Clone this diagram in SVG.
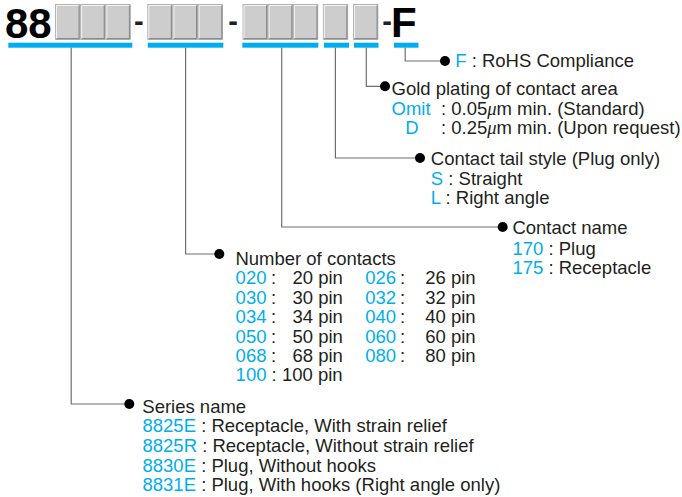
<svg xmlns="http://www.w3.org/2000/svg" xmlns:xlink="http://www.w3.org/1999/xlink" width="682" height="497" viewBox="0 0 682 497">
<style>
text{font-family:"Liberation Sans",Arial,sans-serif;font-size:18.5px;fill:#231f20}
.b{fill:#00aeef}
.big{font-size:42px;font-weight:bold;fill:#000}
.hy{font-size:29px;font-weight:bold;fill:#231f20}
.mu{font-family:"Liberation Serif","DejaVu Serif",serif;font-style:italic}
.bar{fill:#00aeef}
.ln{fill:none;stroke:#6d6e71;stroke-width:1.2}
.dot{fill:#000}
</style>
<defs>
<g id="box">
<rect x="0" y="0" width="24.4" height="35" fill="#cdcdcd" stroke="#a8a8a8" stroke-width="0.8"/>
<path d="M1 34 V1 H23.4" fill="none" stroke="#f2f2f2" stroke-width="1"/>
<path d="M1 34.2 H23.6 V1" fill="none" stroke="#8c8c8c" stroke-width="1.2"/>
</g>
</defs>

<g id="partnumber">
<text class="big" x="5" y="37.5">88</text>
<use xlink:href="#box" x="55.5" y="4.5"/>
<use xlink:href="#box" x="80.7" y="4.5"/>
<use xlink:href="#box" x="105.9" y="4.5"/>
<text class="hy" x="134" y="31">-</text>
<use xlink:href="#box" x="147.8" y="4.5"/>
<use xlink:href="#box" x="173" y="4.5"/>
<use xlink:href="#box" x="198.2" y="4.5"/>
<text class="hy" x="228.2" y="31">-</text>
<use xlink:href="#box" x="243" y="4.5"/>
<use xlink:href="#box" x="268.2" y="4.5"/>
<use xlink:href="#box" x="293.4" y="4.5"/>
<use xlink:href="#box" x="323.3" y="4.5"/>
<use xlink:href="#box" x="353.5" y="4.5"/>
<text class="hy" x="382.2" y="31">-</text>
<text class="big" x="391" y="37">F</text>
<rect class="bar" x="8.3" y="42.7" width="124" height="5"/>
<rect class="bar" x="147.8" y="42.7" width="75.5" height="5"/>
<rect class="bar" x="242.3" y="42.7" width="76" height="5"/>
<rect class="bar" x="324" y="42.7" width="25" height="5"/>
<rect class="bar" x="354" y="42.7" width="24.5" height="5"/>
<rect class="bar" x="394" y="42.7" width="24.5" height="5"/>
</g>

<g id="connectors">
<path class="ln" d="M71.2 47.7 V404 H129.3"/>
<circle class="dot" cx="129.3" cy="404" r="5"/>
<path class="ln" d="M185.6 47.7 V254 H219.3"/>
<circle class="dot" cx="219.3" cy="254" r="5"/>
<path class="ln" d="M281.7 47.7 V227 H502.7"/>
<circle class="dot" cx="502.7" cy="227" r="5"/>
<path class="ln" d="M335.4 47.7 V158 H420"/>
<circle class="dot" cx="420" cy="158" r="5"/>
<path class="ln" d="M366.3 47.7 V86.3 H385"/>
<circle class="dot" cx="385" cy="86.3" r="5"/>
<path class="ln" d="M405.2 47.7 V61 H445"/>
<circle class="dot" cx="445" cy="61" r="5"/>
</g>

<g id="rohs">
<text x="455.2" y="66.7"><tspan class="b">F</tspan> : RoHS Compliance</text>
</g>

<g id="gold">
<text x="391.5" y="95">Gold plating of contact area</text>
<text x="391.5" y="114.5"><tspan class="b">Omit</tspan><tspan x="435.8"> : 0.05</tspan><tspan class="mu">μ</tspan>m min. (Standard)</text>
<text x="405.3" y="133.8"><tspan class="b">D</tspan><tspan x="435.8"> : 0.25</tspan><tspan class="mu">μ</tspan>m min. (Upon request)</text>
</g>

<g id="tail">
<text x="430.8" y="165">Contact tail style (Plug only)</text>
<text x="430.8" y="184.5"><tspan class="b">S</tspan> : Straight</text>
<text x="430.8" y="204.3"><tspan class="b">L</tspan> : Right angle</text>
</g>

<g id="contactname">
<text x="512.4" y="234.3">Contact name</text>
<text x="512.4" y="254.5"><tspan class="b">170</tspan> : Plug</text>
<text x="512.4" y="274"><tspan class="b">175</tspan> : Receptacle</text>
</g>

<g id="contacts">
<text x="235.4" y="265">Number of contacts</text>
<text y="284.4"><tspan class="b" x="235.6">020</tspan><tspan x="271">:</tspan><tspan x="292.5">20 pin</tspan><tspan class="b" x="365.2">026</tspan><tspan x="400">:</tspan><tspan x="425.2">26 pin</tspan></text>
<text y="303.8"><tspan class="b" x="235.6">030</tspan><tspan x="271">:</tspan><tspan x="292.5">30 pin</tspan><tspan class="b" x="365.2">032</tspan><tspan x="400">:</tspan><tspan x="425.2">32 pin</tspan></text>
<text y="323.2"><tspan class="b" x="235.6">034</tspan><tspan x="271">:</tspan><tspan x="292.5">34 pin</tspan><tspan class="b" x="365.2">040</tspan><tspan x="400">:</tspan><tspan x="425.2">40 pin</tspan></text>
<text y="342.6"><tspan class="b" x="235.6">050</tspan><tspan x="271">:</tspan><tspan x="292.5">50 pin</tspan><tspan class="b" x="365.2">060</tspan><tspan x="400">:</tspan><tspan x="425.2">60 pin</tspan></text>
<text y="362"><tspan class="b" x="235.6">068</tspan><tspan x="271">:</tspan><tspan x="292.5">68 pin</tspan><tspan class="b" x="365.2">080</tspan><tspan x="400">:</tspan><tspan x="425.2">80 pin</tspan></text>
<text x="235.6" y="381.4"><tspan class="b">100</tspan> : 100 pin</text>
</g>

<g id="series">
<text x="142.3" y="412.7">Series name</text>
<text x="142.5" y="432.3"><tspan class="b">8825E</tspan> : Receptacle, With strain relief</text>
<text x="142.5" y="451.9"><tspan class="b">8825R</tspan> : Receptacle, Without strain relief</text>
<text x="142.5" y="471.5"><tspan class="b">8830E</tspan> : Plug, Without hooks</text>
<text x="142.5" y="491.1"><tspan class="b">8831E</tspan> : Plug, With hooks (Right angle only)</text>
</g>
</svg>
